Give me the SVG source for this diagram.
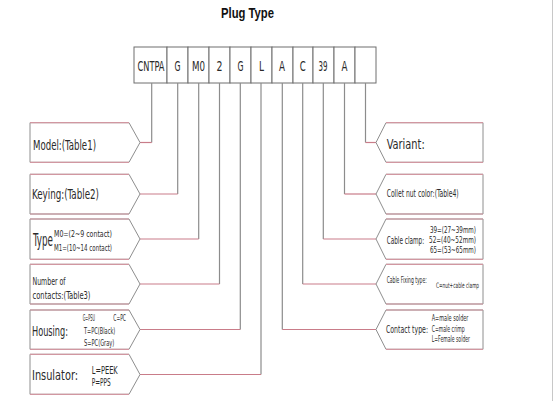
<svg xmlns="http://www.w3.org/2000/svg" width="553" height="401" viewBox="0 0 553 401">
<style>
text{font-family:"DejaVu Sans Condensed","Liberation Sans",sans-serif;fill:#2a2a2a;font-stretch:condensed}
.title{font-family:"Liberation Sans",Arial,sans-serif;font-weight:bold;font-size:14px;fill:#111;font-stretch:normal}
.code{font-size:14px;text-anchor:middle}
.cell{fill:#fff;stroke:#6e6e6e;stroke-width:1}
.shape{fill:#fff;stroke:#8e8e8e;stroke-width:1}
.edge{stroke:#d197a1;stroke-width:1.2;fill:none}
.v{stroke:#8c8c8c;stroke-width:1.2;fill:none}
.h{stroke:#c97c89;stroke-width:1.2;fill:none}
.big{font-size:14px}
.mid{font-size:10px}
.sm{font-size:8px}
</style>
<line x1="552.5" y1="0" x2="552.5" y2="401" stroke="#c8c8c8" stroke-width="1"/>
<text class="title" x="247.5" y="18" text-anchor="middle" textLength="53" lengthAdjust="spacingAndGlyphs">Plug Type</text>

<g id="code">
<rect class="cell" x="134" y="47" width="33" height="36"/>
<rect class="cell" x="167" y="47" width="21" height="36"/>
<rect class="cell" x="188" y="47" width="21" height="36"/>
<rect class="cell" x="209" y="47" width="21" height="36"/>
<rect class="cell" x="230" y="47" width="21" height="36"/>
<rect class="cell" x="251" y="47" width="21" height="36"/>
<rect class="cell" x="272" y="47" width="21" height="36"/>
<rect class="cell" x="293" y="47" width="20" height="36"/>
<rect class="cell" x="313" y="47" width="21" height="36"/>
<rect class="cell" x="334" y="47" width="21" height="36"/>
<rect class="cell" x="355" y="47" width="21" height="36"/>
<text class="code" x="151" y="71" textLength="27" lengthAdjust="spacingAndGlyphs">CNTPA</text>
<text class="code" x="177.5" y="71" textLength="6" lengthAdjust="spacingAndGlyphs">G</text>
<text class="code" x="198.5" y="71" textLength="13" lengthAdjust="spacingAndGlyphs">M0</text>
<text class="code" x="219.5" y="71" textLength="6" lengthAdjust="spacingAndGlyphs">2</text>
<text class="code" x="240.5" y="71" textLength="6" lengthAdjust="spacingAndGlyphs">G</text>
<text class="code" x="261.5" y="71" textLength="5" lengthAdjust="spacingAndGlyphs">L</text>
<text class="code" x="282" y="71" textLength="6" lengthAdjust="spacingAndGlyphs">A</text>
<text class="code" x="302.7" y="71" textLength="6" lengthAdjust="spacingAndGlyphs">C</text>
<text class="code" x="323" y="71" textLength="9" lengthAdjust="spacingAndGlyphs">39</text>
<text class="code" x="344.5" y="71" textLength="6" lengthAdjust="spacingAndGlyphs">A</text>
</g>

<g id="connectors">
<path class="v" d="M151.7,83 V142.5"/><path class="h" d="M151.7,142.5 H140"/>
<path class="v" d="M177.7,83 V194"/><path class="h" d="M177.7,194 H140"/>
<path class="v" d="M198.7,83 V239"/><path class="h" d="M198.7,239 H140"/>
<path class="v" d="M219.5,83 V284"/><path class="h" d="M219.5,284 H140"/>
<path class="v" d="M240.3,83 V329.5"/><path class="h" d="M240.3,329.5 H140"/>
<path class="v" d="M261,83 V374.5"/><path class="h" d="M261,374.5 H140"/>
<path class="v" d="M282.3,83 V329.5"/><path class="h" d="M282.3,329.5 H376"/>
<path class="v" d="M302.7,83 V284"/><path class="h" d="M302.7,284 H376"/>
<path class="v" d="M323.3,83 V239"/><path class="h" d="M323.3,239 H376"/>
<path class="v" d="M344.5,83 V194"/><path class="h" d="M344.5,194 H376"/>
<path class="v" d="M365.5,83 V142.5"/><path class="h" d="M365.5,142.5 H376"/>
</g>

<g id="model">
<polygon class="shape" points="30,122.7 129,122.7 140,142.5 129,162.3 30,162.3"/>
<path class="edge" d="M30,122.7 H129 M30,162.3 H129"/>
<text class="big" x="33" y="150" textLength="63" lengthAdjust="spacingAndGlyphs">Model:(Table1)</text>
</g>
<g id="keying">
<polygon class="shape" points="30,174.3 129,174.3 140,194 129,214 30,214"/>
<path class="edge" d="M30,174.3 H129 M30,214 H129"/>
<text class="big" x="32" y="199" textLength="67" lengthAdjust="spacingAndGlyphs">Keying:(Table2)</text>
</g>
<g id="type">
<polygon class="shape" points="30,219 129,219 140,239 129,259.3 30,259.3"/>
<path class="edge" d="M30,219 H129 M30,259.3 H129"/>
<text x="33" y="246" font-size="17" textLength="20" lengthAdjust="spacingAndGlyphs">Type</text>
<text x="54" y="237" font-size="9" textLength="58" lengthAdjust="spacingAndGlyphs">M0=(2~9 contact)</text>
<text x="54" y="251" font-size="9" textLength="58" lengthAdjust="spacingAndGlyphs">M1=(10~14 contact)</text>
</g>
<g id="contacts">
<polygon class="shape" points="30,264.3 129,264.3 140,284 129,304 30,304"/>
<path class="edge" d="M30,264.3 H129 M30,304 H129"/>
<text class="mid" x="32.5" y="285" textLength="33" lengthAdjust="spacingAndGlyphs">Number of</text>
<text class="mid" x="32.5" y="299" textLength="58" lengthAdjust="spacingAndGlyphs">contacts:(Table3)</text>
</g>
<g id="housing">
<polygon class="shape" points="30,310 129,310 140,329.5 129,349.3 30,349.3"/>
<path class="edge" d="M30,310 H129 M30,349.3 H129"/>
<text class="big" x="32" y="336" textLength="36" lengthAdjust="spacingAndGlyphs">Housing:</text>
<text class="sm" x="82.7" y="321" textLength="12.3" lengthAdjust="spacingAndGlyphs">G=PSU</text>
<text class="sm" x="113.3" y="321" textLength="12.7" lengthAdjust="spacingAndGlyphs">C=PC</text>
<text class="sm" x="84" y="334" textLength="31.3" lengthAdjust="spacingAndGlyphs">T=PC(Black)</text>
<text class="sm" x="84" y="346" textLength="30.3" lengthAdjust="spacingAndGlyphs">S=PC(Gray)</text>
</g>
<g id="insulator">
<polygon class="shape" points="30,354.3 129,354.3 140,374.5 129,394.3 30,394.3"/>
<path class="edge" d="M30,354.3 H129 M30,394.3 H129"/>
<text class="big" x="32" y="380" textLength="46" lengthAdjust="spacingAndGlyphs">Insulator:</text>
<text x="91.7" y="374" font-size="11" textLength="26" lengthAdjust="spacingAndGlyphs">L=PEEK</text>
<text x="91.7" y="386" font-size="11" textLength="19" lengthAdjust="spacingAndGlyphs">P=PPS</text>
</g>

<g id="variant">
<polygon class="shape" points="376,142.5 386,122.7 483,122.7 483,162.3 386,162.3"/>
<path class="edge" d="M386,122.7 H483 M386,162.3 H483"/>
<text class="big" x="386.7" y="149" textLength="38" lengthAdjust="spacingAndGlyphs">Variant:</text>
</g>
<g id="collet">
<polygon class="shape" points="376,194 386,174.3 483,174.3 483,214 386,214"/>
<path class="edge" d="M386,174.3 H483 M386,214 H483"/>
<text class="mid" x="386.7" y="197" textLength="72" lengthAdjust="spacingAndGlyphs">Collet nut color:(Table4)</text>
</g>
<g id="clamp">
<polygon class="shape" points="376,239 386,219 483,219 483,259.3 386,259.3"/>
<path class="edge" d="M386,219 H483 M386,259.3 H483"/>
<text x="386.7" y="244" font-size="11" textLength="37.5" lengthAdjust="spacingAndGlyphs">Cable clamp:</text>
<text class="sm" x="476" y="233" text-anchor="end" textLength="46" lengthAdjust="spacingAndGlyphs">39=(27~39mm)</text>
<text class="sm" x="476" y="243" text-anchor="end" textLength="47" lengthAdjust="spacingAndGlyphs">52=(40~52mm)</text>
<text class="sm" x="476" y="253" text-anchor="end" textLength="46" lengthAdjust="spacingAndGlyphs">65=(53~65mm)</text>
</g>
<g id="fixing">
<polygon class="shape" points="376,284 386,264.3 483,264.3 483,304 386,304"/>
<path class="edge" d="M386,264.3 H483 M386,304 H483"/>
<text x="386.7" y="283" font-size="9" textLength="40" lengthAdjust="spacingAndGlyphs">Cable Fixing type:</text>
<text x="436" y="288" font-size="7.5" textLength="43" lengthAdjust="spacingAndGlyphs">C=nut+cable clamp</text>
</g>
<g id="contact">
<polygon class="shape" points="376,329.5 386,310 483,310 483,349.3 386,349.3"/>
<path class="edge" d="M386,310 H483 M386,349.3 H483"/>
<text class="mid" x="386" y="333" textLength="42" lengthAdjust="spacingAndGlyphs">Contact type:</text>
<text class="sm" x="431.7" y="321" textLength="36.7" lengthAdjust="spacingAndGlyphs">A=male solder</text>
<text class="sm" x="431.7" y="331.7" textLength="33" lengthAdjust="spacingAndGlyphs">C=male crimp</text>
<text class="sm" x="431.7" y="342" textLength="38.3" lengthAdjust="spacingAndGlyphs">L=Female solder</text>
</g>
</svg>
